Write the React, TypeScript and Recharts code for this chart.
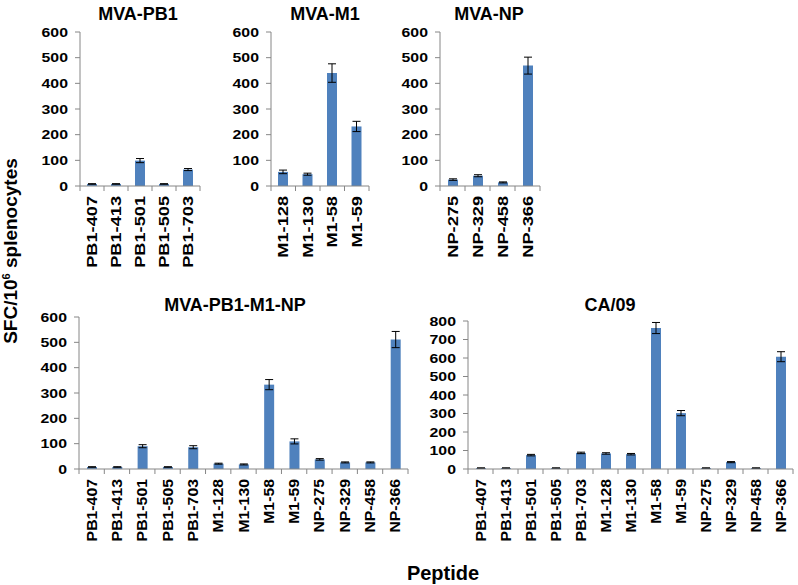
import React from "react"
import { BarChart, Bar, XAxis, YAxis, ErrorBar } from "recharts"

const pb1Peptides = ["PB1-407", "PB1-413", "PB1-501", "PB1-505", "PB1-703"]
const m1Peptides = ["M1-128", "M1-130", "M1-58", "M1-59"]
const npPeptides = ["NP-275", "NP-329", "NP-458", "NP-366"]
const allPeptides = [...pb1Peptides, ...m1Peptides, ...npPeptides]

const mvaPb1Values = [8, 8, 99, 8, 64]
const mvaPb1Errors = [1, 1, 8, 1, 4]

const mvaM1Values = [55, 46, 440, 232]
const mvaM1Errors = [7, 4, 36, 20]

const mvaNpValues = [25, 40, 14, 469]
const mvaNpErrors = [3, 4, 2, 33]

const mvaAllValues = [8, 8, 90, 8, 86, 21, 18, 333, 109, 38, 26, 26, 511]
const mvaAllErrors = [1, 1, 6, 1, 6, 2, 2, 20, 10, 3, 2, 2, 32]

const ca09Values = [5, 5, 75, 5, 87, 84, 80, 762, 302, 5, 37, 5, 607]
const ca09Errors = [1, 1, 4, 1, 4, 4, 4, 30, 14, 1, 3, 1, 27]

const ticks600 = [0, 100, 200, 300, 400, 500, 600]
const ticks800 = [0, 100, 200, 300, 400, 500, 600, 700, 800]

const BAR = "#4F81BD"
const AXIS = "#868686"
const FONT = "'Liberation Sans', Arial, sans-serif"

const toRows = (names: string[], values: number[], errors: number[]) =>
  names.map((name, i) => ({ name, value: values[i], err: errors[i] }))

// excel style: ticks between categories, labels rotated and a bit stretched
function XTick(props: any) {
  const { x, y, payload, index, band, count, stretch } = props
  return (
    <g transform={`translate(${x},${y})`}>
      <line x1={-band / 2} y1={0} x2={-band / 2} y2={5} stroke={AXIS} />
      {index === count - 1 && <line x1={band / 2} y1={0} x2={band / 2} y2={5} stroke={AXIS} />}
      <g transform={`rotate(-90) translate(-10,0) scale(${stretch},1)`}>
        <text
          x={0}
          y={0}
          dy="0.36em"
          textAnchor="end"
          fontSize={14}
          fontWeight="bold"
          fontFamily={FONT}
          fill="#000"
        >
          {payload.value}
        </text>
      </g>
    </g>
  )
}

function YTick(props: any) {
  const { x, y, payload } = props
  return (
    <g transform={`translate(${x},${y}) scale(1.22,1)`}>
      <text x={0} y={0} dy="0.36em" textAnchor="end" fontSize={13} fontWeight="bold" fontFamily={FONT} fill="#000">
        {payload.value}
      </text>
    </g>
  )
}

interface PanelProps {
  title: string
  names: string[]
  values: number[]
  errors: number[]
  plotX: number
  plotY: number
  plotW: number
  plotH: number
  yTicks: number[]
  titleX: number
  titleY: number
  stretch: number
}

function Panel({ title, names, values, errors, plotX, plotY, plotW, plotH, yTicks, titleX, titleY, stretch }: PanelProps) {
  const data = toRows(names, values, errors)
  const band = plotW / names.length
  const yW = 60
  const mTop = 10
  const xH = 100
  return (
    <>
      <div
        style={{
          position: "absolute",
          left: titleX - 100,
          top: titleY - 11,
          width: 200,
          lineHeight: "22px",
          textAlign: "center",
          fontFamily: FONT,
          fontWeight: "bold",
          fontSize: 18,
        }}
      >
        {title}
      </div>
      <div style={{ position: "absolute", left: plotX - yW, top: plotY - mTop }}>
        <BarChart
          width={plotW + yW + 10}
          height={mTop + plotH + xH}
          data={data}
          margin={{ top: mTop, right: 10, bottom: 0, left: 0 }}
        >
          <XAxis
            dataKey="name"
            interval={0}
            height={xH}
            tickLine={false}
            tickSize={0}
            tickMargin={0}
            axisLine={{ stroke: AXIS }}
            tick={(p: any) => <XTick {...p} band={band} count={names.length} stretch={stretch} />}
          />
          <YAxis
            width={yW}
            domain={[0, yTicks[yTicks.length - 1]]}
            ticks={yTicks}
            interval={0}
            allowDataOverflow
            tickSize={5}
            tickMargin={7}
            axisLine={{ stroke: AXIS }}
            tickLine={{ stroke: AXIS }}
            tick={(p: any) => <YTick {...p} />}
          />
          <Bar dataKey="value" fill={BAR} barSize={10} isAnimationActive={false}>
            <ErrorBar dataKey="err" width={4} stroke="#000" strokeWidth={1} />
          </Bar>
        </BarChart>
      </div>
    </>
  )
}

export default function App() {
  return (
    <div style={{ position: "absolute", left: 0, top: 0, width: 798, height: 585, background: "#fff", fontFamily: FONT, overflow: "hidden" }}>
      <Panel title="MVA-PB1" names={pb1Peptides} values={mvaPb1Values} errors={mvaPb1Errors}
        plotX={80} plotY={32} plotW={120} plotH={154} yTicks={ticks600} titleX={138} titleY={14} stretch={1.3} />
      <Panel title="MVA-M1" names={m1Peptides} values={mvaM1Values} errors={mvaM1Errors}
        plotX={271} plotY={32} plotW={98} plotH={154} yTicks={ticks600} titleX={325} titleY={14} stretch={1.3} />
      <Panel title="MVA-NP" names={npPeptides} values={mvaNpValues} errors={mvaNpErrors}
        plotX={440} plotY={32} plotW={100} plotH={154} yTicks={ticks600} titleX={489} titleY={14} stretch={1.3} />
      <Panel title="MVA-PB1-M1-NP" names={allPeptides} values={mvaAllValues} errors={mvaAllErrors}
        plotX={79} plotY={317} plotW={329} plotH={152} yTicks={ticks600} titleX={235} titleY={305} stretch={1.13} />
      <Panel title="CA/09" names={allPeptides} values={ca09Values} errors={ca09Errors}
        plotX={468} plotY={321} plotW={325} plotH={148} yTicks={ticks800} titleX={610} titleY={305} stretch={1.13} />
      <div
        style={{
          position: "absolute",
          left: 11 - 130,
          top: 251 - 12,
          width: 260,
          lineHeight: "24px",
          textAlign: "center",
          whiteSpace: "nowrap",
          fontWeight: "bold",
          fontSize: 19,
          transform: "rotate(-90deg)",
        }}
      >
        SFC/10<sup style={{ fontSize: 11, verticalAlign: "7px", lineHeight: 0 }}>6</sup> splenocytes
      </div>
      <div
        style={{
          position: "absolute",
          left: 443 - 60,
          top: 573 - 12,
          width: 120,
          lineHeight: "24px",
          textAlign: "center",
          fontWeight: "bold",
          fontSize: 20,
        }}
      >
        Peptide
      </div>
    </div>
  )
}
